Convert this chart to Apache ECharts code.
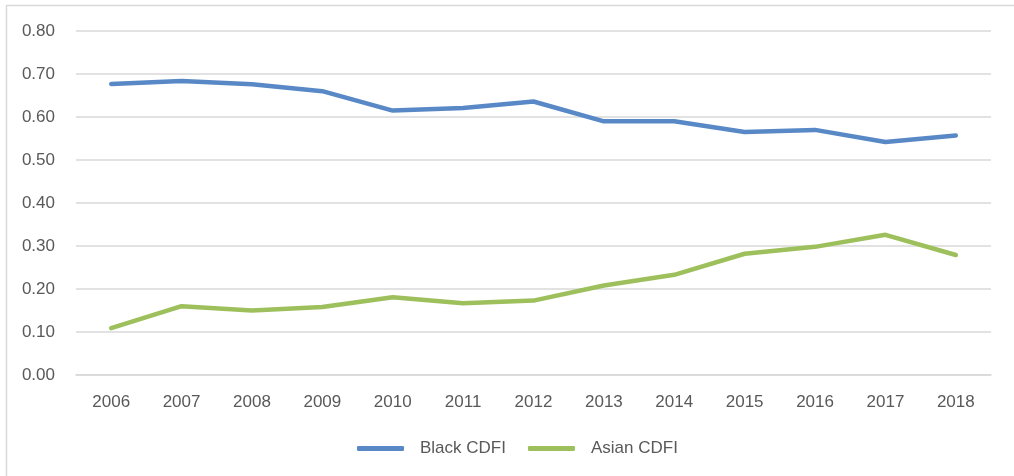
<!DOCTYPE html>
<html lang="en">
<head>
    <meta charset="UTF-8">
    <title>CDFI</title>
    <script src="https://cdn.jsdelivr.net/npm/echarts@6/dist/echarts.min.js"></script>
    <style>
        html, body { margin: 0; padding: 0; background: #fff; }
        #main { width: 1014px; height: 476px; }
    </style>
</head>
<body>
<div id="main"></div>
<script type="text/javascript">
    // years on the x axis
    var years = ['2006', '2007', '2008', '2009', '2010', '2011', '2012',
                 '2013', '2014', '2015', '2016', '2017', '2018'];
    // values
    var blackCdfi = [0.677, 0.684, 0.676, 0.660, 0.615, 0.621, 0.636,
                     0.590, 0.590, 0.565, 0.570, 0.542, 0.557];
    var asianCdfi = [0.109, 0.160, 0.150, 0.158, 0.181, 0.167, 0.173,
                     0.208, 0.233, 0.282, 0.298, 0.326, 0.279];

    var labelFont = 'Liberation Sans';
    var textGray = '#595959';
    var gridGray = '#d9d9d9';

    var myChart = echarts.init(document.getElementById('main'));
    var option = {
        animation: false,
        backgroundColor: '#fff',
        graphic: [{
            type: 'rect',
            shape: { x: 6.5, y: 5.5, width: 1020, height: 480 },
            style: { fill: 'none', stroke: '#d9d9d9', lineWidth: 1.5 },
            silent: true
        }],
        grid: { left: 76, right: 23, top: 31, bottom: 101 },
        legend: {
            bottom: 14,
            left: 352,
            itemGap: 22,
            itemWidth: 47,
            itemHeight: 5,
            icon: 'roundRect',
            textStyle: { color: textGray, fontFamily: labelFont, fontSize: 17, padding: [0, 0, 0, 11] },
            data: ['Black CDFI', 'Asian CDFI']
        },
        xAxis: {
            type: 'category',
            boundaryGap: true,
            data: years,
            axisLine: { show: true, lineStyle: { color: gridGray, width: 1.5 } },
            axisTick: { show: false },
            axisLabel: { color: textGray, fontFamily: labelFont, fontSize: 17, margin: 19 }
        },
        yAxis: {
            type: 'value',
            min: 0,
            max: 0.8,
            interval: 0.1,
            axisLine: { show: false },
            axisTick: { show: false },
            splitLine: { lineStyle: { color: gridGray, width: 1.5 } },
            axisLabel: {
                color: textGray, fontFamily: labelFont, fontSize: 17, margin: 21,
                formatter: function (v) { return v.toFixed(2); }
            }
        },
        series: [
            {
                name: 'Black CDFI',
                type: 'line',
                data: blackCdfi,
                symbol: 'none',
                itemStyle: { color: '#5889c6' },
                lineStyle: { color: '#5889c6', width: 4.5, cap: 'round', join: 'round' }
            },
            {
                name: 'Asian CDFI',
                type: 'line',
                data: asianCdfi,
                symbol: 'none',
                itemStyle: { color: '#9dc05c' },
                lineStyle: { color: '#9dc05c', width: 4.5, cap: 'round', join: 'round' }
            }
        ]
    };
    myChart.setOption(option);
</script>
</body>
</html>
